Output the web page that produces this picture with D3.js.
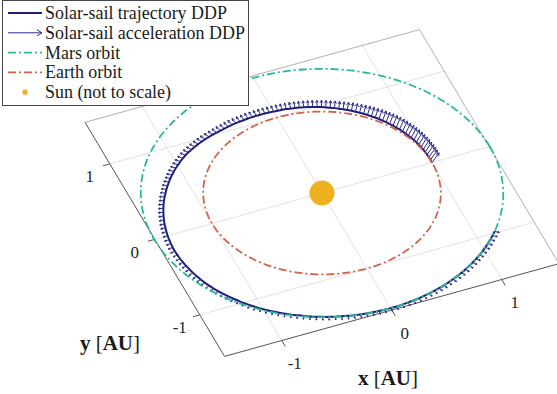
<!DOCTYPE html>
<html><head><meta charset="utf-8">
<script src="https://cdn.jsdelivr.net/npm/d3@7"></script>
<style>body{margin:0;background:#fff;} svg{display:block;} text{font-family:"Liberation Serif","DejaVu Serif",serif;}</style>
</head><body>
<svg id="c" width="557" height="394"></svg>
<script>
// ---------------- data ----------------
const xTicks = [-1, 0, 1];
const yTicks = [-1, 0, 1];
const xTickLabels = ["-1", "0", "1"];
const yTickLabels = ["-1", "0", "1"];
const xLimits = [-1.52, 1.52];
const yLimits = [-1.55, 1.55];
const earthOrbitRadius = 1.0;
const marsOrbitRadius = 1.525;
const sunPosition = [0, 0];
const legendLabels = ["Solar-sail trajectory DDP", "Solar-sail acceleration DDP", "Mars orbit", "Earth orbit", "Sun (not to scale)"];

// trajectory: heliocentric longitude [deg] and radius [AU]
const trajTheta = [0,2,4,6,8,10,12,14,16,18,20,22,24,26,28,30,
 32,34,36,38,40,42,44,46,48,50,52,54,56,58,60,
 62,64,66,68,70,72,74,76,78,80,82,84,86,88,90,
 92,94,96,98,100,102,104,106,108,110,112,114,116,118,120,
 122,124,126,128,130,132,134,136,138,140,142,144,146,148,150,
 152,154,156,158,160,162,164,166,168,170,172,174,176,178,180,
 182,184,186,188,190,192,194,196,198,200,202,204,206,208,210,
 212,214,216,218,220,222,224,226,228,230,232,234,236,238,240,
 242,244,246,248,250,252,254,256,258,260,262,264,266,268,270,
 272,274,276,278,280,282,284,286,288,290,292,294,296,298,300,
 302,304,306,308,310,312,314,316,318,320];
const trajR = [1.000,1.001,1.003,1.004,1.005,1.007,1.008,1.009,1.011,1.012,1.013,1.015,1.016,1.017,1.019,1.020,
 1.022,1.023,1.025,1.027,1.029,1.030,1.032,1.034,1.036,1.037,1.039,1.041,1.043,1.044,1.046,
 1.048,1.050,1.052,1.055,1.057,1.059,1.061,1.063,1.065,1.067,1.069,1.072,1.074,1.076,1.078,
 1.082,1.086,1.090,1.095,1.099,1.104,1.109,1.114,1.120,1.126,1.132,1.138,1.145,1.153,1.162,
 1.171,1.181,1.190,1.200,1.209,1.218,1.228,1.237,1.244,1.251,1.258,1.266,1.273,1.280,1.287,
 1.294,1.302,1.309,1.316,1.325,1.333,1.341,1.348,1.356,1.364,1.372,1.380,1.387,1.395,1.403,
 1.411,1.418,1.426,1.433,1.438,1.444,1.449,1.455,1.460,1.466,1.471,1.477,1.482,1.486,1.489,
 1.492,1.494,1.497,1.500,1.502,1.505,1.508,1.511,1.512,1.513,1.514,1.515,1.516,1.517,1.517,
 1.518,1.519,1.520,1.521,1.522,1.522,1.523,1.523,1.523,1.524,1.524,1.524,1.525,1.525,1.525,
 1.525,1.525,1.525,1.525,1.525,1.525,1.525,1.525,1.525,1.525,1.525,1.525,1.525,1.525,1.525,
 1.525,1.525,1.525,1.525,1.525,1.525,1.525,1.525,1.525,1.525];
// sail acceleration (plot-scaled): in-plane radial part and out-of-plane part
const accRadial = [0.065,0.065,0.065,0.065,0.064,0.064,0.064,0.064,0.064,0.063,0.063,0.063,0.063,0.062,0.062,0.062,
 0.062,0.062,0.061,0.061,0.061,0.060,0.060,0.060,0.059,0.059,0.059,0.059,0.058,0.058,0.058,
 0.058,0.057,0.057,0.057,0.056,0.056,0.056,0.056,0.055,0.055,0.055,0.055,0.054,0.054,0.054,
 0.054,0.054,0.054,0.053,0.053,0.053,0.053,0.052,0.052,0.052,0.052,0.051,0.051,0.051,0.050,
 0.050,0.050,0.049,0.049,0.049,0.048,0.048,0.048,0.047,0.047,0.047,0.046,0.046,0.046,0.045,
 0.045,0.045,0.044,0.044,0.044,0.043,0.043,0.043,0.043,0.042,0.042,0.042,0.042,0.042,0.042,
 0.042,0.042,0.042,0.042,0.042,0.042,0.042,0.042,0.042,0.042,0.042,0.042,0.042,0.042,0.042,
 0.042,0.042,0.042,0.042,0.042,0.042,0.042,0.042,0.042,0.042,0.042,0.042,0.042,0.042,0.042,
 0.042,0.042,0.042,0.042,0.042,0.042,0.042,0.042,0.042,0.042,0.042,0.042,0.042,0.042,0.042,
 0.042,0.042,0.042,0.042,0.042,0.042,0.042,0.042,0.042,0.042,0.042,0.042,0.042,0.042,0.042,
 0.042,0.042,0.042,0.042,0.042,0.042,0.042,0.042,0.042,0.042];
const accLift = [0.090,0.089,0.088,0.087,0.086,0.085,0.084,0.083,0.082,0.081,0.080,0.079,0.078,0.077,0.076,0.075,
 0.072,0.069,0.066,0.063,0.060,0.057,0.054,0.051,0.048,0.045,0.042,0.039,0.036,0.033,0.030,
 0.029,0.028,0.027,0.026,0.025,0.025,0.024,0.023,0.023,0.022,0.022,0.021,0.021,0.020,0.020,
 0.019,0.019,0.018,0.018,0.017,0.017,0.016,0.016,0.015,0.015,0.014,0.014,0.013,0.013,0.012,
 0.012,0.011,0.011,0.010,0.010,0.009,0.009,0.008,0.008,0.007,0.007,0.006,0.006,0.005,0.005,
 0.004,0.004,0.003,0.003,0.002,0.002,0.001,0.001,0,0,0,0,0,0,0,
 0,0,0,0,0,0,0,0,0,0,0,0,0,0,0,
 0,0,0,0,0,0,0,0,0,0,0,0,0,0,0,
 0,0,0,0,0,0,0,0,0,0,0,0,0,0,0,
 0,0,0,0,0,0,0,0,0,0,0,0,0,0,0,
 0,0,0,0,0,0,0,0,0,0];

// ---------------- colours ----------------
const C = { traj: "#1e1e78", acc: "#2c2c8a", mars: "#2ab79b", earth: "#d4614a", sun: "#edb120",
            grid: "#e2e2e2", axis: "#555555", back: "#b0b0b0", text: "#262626" };

// ---------------- projection (orthographic 3-D view) via d3 scales ----------------
const origin = [322, 193];
const xToSX = d3.scaleLinear().domain([0, 1]).range([0, 110]);
const xToSY = d3.scaleLinear().domain([0, 1]).range([0, -30.5]);
const yToSX = d3.scaleLinear().domain([0, 1]).range([0, -45]);
const yToSY = d3.scaleLinear().domain([0, 1]).range([0, -75.5]);
const zToSY = d3.scaleLinear().domain([0, 1]).range([0, -85]);
const P = (x, y, z = 0) => [origin[0] + xToSX(x) + yToSX(y), origin[1] + xToSY(x) + yToSY(y) + zToSY(z)];

const svg = d3.select("#c");
const line = d3.line();
const rad = d => d * Math.PI / 180;

// grid
const g = svg.append("g");
xTicks.forEach(v => g.append("path").attr("d", line([P(v, yLimits[0]), P(v, yLimits[1])]))
  .attr("stroke", C.grid).attr("stroke-width", 1).attr("fill", "none"));
yTicks.forEach(v => g.append("path").attr("d", line([P(xLimits[0], v), P(xLimits[1], v)]))
  .attr("stroke", C.grid).attr("stroke-width", 1).attr("fill", "none"));
// back box edges
g.append("path").attr("d", line([P(xLimits[0], yLimits[1]), P(xLimits[1], yLimits[1]), P(xLimits[1], yLimits[0])]))
  .attr("stroke", C.back).attr("stroke-width", 1).attr("fill", "none");
// front axes
g.append("path").attr("d", line([P(xLimits[0], yLimits[1]), P(xLimits[0], yLimits[0]), P(xLimits[1], yLimits[0])]))
  .attr("stroke", C.axis).attr("stroke-width", 1).attr("fill", "none");

// ticks + labels
const exLen = Math.hypot(xToSX(1), xToSY(1)), eyLen = Math.hypot(yToSX(1), yToSY(1));
xTicks.forEach((v, i) => {
  const a = P(v, yLimits[0]);
  const b = [a[0] - yToSX(1) / eyLen * 7, a[1] - yToSY(1) / eyLen * 7];
  g.append("path").attr("d", line([a, b])).attr("stroke", C.axis).attr("stroke-width", 1);
  g.append("text").attr("x", a[0] + 13).attr("y", a[1] + 23).attr("text-anchor", "middle")
    .attr("dominant-baseline", "central").attr("font-size", 17)
    .attr("fill", C.text).text(xTickLabels[i]);
});
yTicks.forEach((v, i) => {
  const a = P(xLimits[0], v);
  const b = [a[0] - xToSX(1) / exLen * 7, a[1] - xToSY(1) / exLen * 7];
  g.append("path").attr("d", line([a, b])).attr("stroke", C.axis).attr("stroke-width", 1);
  g.append("text").attr("x", a[0] - 20).attr("y", a[1] + 13).attr("text-anchor", "middle")
    .attr("dominant-baseline", "central").attr("font-size", 17)
    .attr("fill", C.text).text(yTickLabels[i]);
});

// axis labels
function axisLabel(x, y, v) {
  const t = svg.append("text").attr("x", x).attr("y", y).attr("text-anchor", "middle")
    .attr("dominant-baseline", "central").attr("font-size", 21).attr("fill", "#1a1a1a");
  t.append("tspan").attr("font-weight", "bold").text(v);
  t.append("tspan").text(" [");
  t.append("tspan").attr("font-weight", "bold").text("AU");
  t.append("tspan").text("]");
}
axisLabel(110, 343, "y");
axisLabel(388, 378, "x");

// trajectory
const trajPts = trajTheta.map((t, i) => P(trajR[i] * Math.cos(rad(t)), trajR[i] * Math.sin(rad(t))));
svg.append("path").attr("d", d3.line().curve(d3.curveCatmullRom)(trajPts))
  .attr("fill", "none").attr("stroke", C.traj).attr("stroke-width", 2);

// acceleration arrows
const arrows = svg.append("g").attr("stroke", C.acc).attr("stroke-width", 1).attr("fill", "none");
trajTheta.forEach((t, i) => {
  const c = Math.cos(rad(t)), s = Math.sin(rad(t));
  const a = P(trajR[i] * c, trajR[i] * s);
  const b = P((trajR[i] + accRadial[i]) * c, (trajR[i] + accRadial[i]) * s, accLift[i]);
  const dx = b[0] - a[0], dy = b[1] - a[1], L = Math.hypot(dx, dy);
  const h = Math.min(3.5, 0.4 * L), ang = Math.atan2(dy, dx);
  const h1 = [b[0] - h * Math.cos(ang - 0.5), b[1] - h * Math.sin(ang - 0.5)];
  const h2 = [b[0] - h * Math.cos(ang + 0.5), b[1] - h * Math.sin(ang + 0.5)];
  arrows.append("path").attr("d", line([a, b]) + line([h1, b, h2]));
});

// orbits
const circ = r => d3.range(0, 361, 1).map(d => P(r * Math.cos(rad(d)), r * Math.sin(rad(d))));
svg.append("path").attr("d", line(circ(marsOrbitRadius))).attr("fill", "none").attr("stroke", C.mars)
  .attr("stroke-width", 1.8).attr("stroke-dasharray", "8,3,2,3");
svg.append("path").attr("d", line(circ(earthOrbitRadius))).attr("fill", "none").attr("stroke", C.earth)
  .attr("stroke-width", 1.8).attr("stroke-dasharray", "8,3,2,3");

// sun
const sp = P(sunPosition[0], sunPosition[1]);
svg.append("circle").attr("cx", sp[0]).attr("cy", sp[1]).attr("r", 12.5).attr("fill", C.sun);

// legend
const lg = svg.append("g");
lg.append("rect").attr("x", 2.5).attr("y", 0.5).attr("width", 246).attr("height", 105)
  .attr("fill", "#fff").attr("stroke", "#444").attr("stroke-width", 1);
const rowY = i => 13 + i * 19.8;
lg.append("path").attr("d", line([[8, rowY(0)], [42, rowY(0)]])).attr("stroke", C.traj).attr("stroke-width", 2);
lg.append("path").attr("d", line([[8, rowY(1)], [42, rowY(1)]]) + line([[37, rowY(1) - 3], [42, rowY(1)], [37, rowY(1) + 3]]))
  .attr("stroke", C.acc).attr("stroke-width", 1).attr("fill", "none");
lg.append("path").attr("d", line([[8, rowY(2)], [42, rowY(2)]])).attr("stroke", C.mars).attr("stroke-width", 1.8).attr("stroke-dasharray", "8,3,2,3");
lg.append("path").attr("d", line([[8, rowY(3)], [42, rowY(3)]])).attr("stroke", C.earth).attr("stroke-width", 1.8).attr("stroke-dasharray", "8,3,2,3");
lg.append("circle").attr("cx", 25).attr("cy", rowY(4)).attr("r", 2.6).attr("fill", C.sun);
const lt = legendLabels.map((s, i) => lg.append("text").attr("x", 45).attr("y", rowY(i))
  .attr("dominant-baseline", "central").attr("font-size", 17).attr("fill", "#1a1a1a").text(s));
// fit longest entry into the box width
const w = lt[1].node().getComputedTextLength();
const fs = 17 * 200 / w;
lt.forEach(t => t.attr("font-size", fs));
</script>
</body></html>
